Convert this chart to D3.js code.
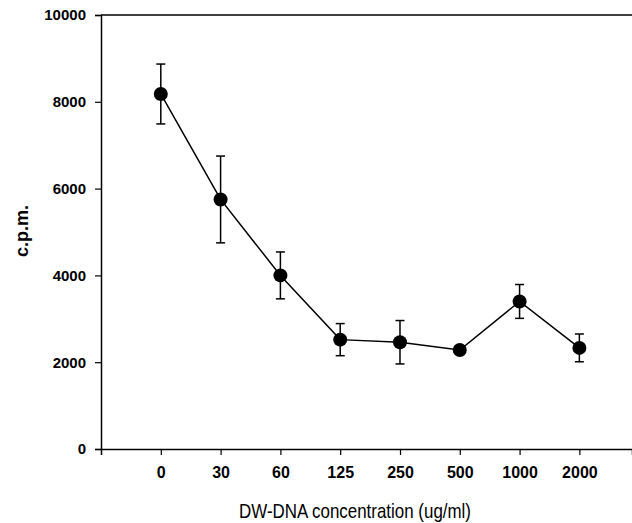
<!DOCTYPE html>
<html>
<head>
<meta charset="utf-8">
<script src="https://cdn.jsdelivr.net/npm/d3@7"></script>
<style>
  body { margin: 0; background: #fff; }
  text { font-family: "Liberation Sans", Arial, sans-serif; fill: #000; }
</style>
</head>
<body>
<div id="chart"></div>
<script>
// concentrations (categorical), mean c.p.m. and error (+/-)
const concentrations = ["0", "30", "60", "125", "250", "500", "1000", "2000"];
const cpm = [8180, 5750, 4000, 2520, 2460, 2280, 3400, 2330];
const err = [690, 1000, 540, 370, 500, 0, 390, 320];
const yTicks = [0, 2000, 4000, 6000, 8000, 10000];

const width = 632, height = 523;
const margin = { top: 15, right: 0, bottom: 74, left: 101 };

const svg = d3.select("#chart").append("svg")
  .attr("width", width)
  .attr("height", height);

// x is index based so that the y axis sits one step left of "0"
const x = d3.scaleLinear()
  .domain([-1, 7.88])
  .range([margin.left, width - margin.right]);

const y = d3.scaleLinear()
  .domain([0, 10000])
  .range([height - margin.bottom, margin.top]);

// top frame line
svg.append("line")
  .attr("x1", margin.left).attr("x2", width)
  .attr("y1", y(10000)).attr("y2", y(10000))
  .attr("stroke", "#000").attr("stroke-width", 1.5);

// y axis
const yAxis = svg.append("g")
  .attr("transform", `translate(${margin.left},0)`)
  .call(d3.axisLeft(y).tickValues(yTicks).tickSize(6).tickPadding(9).tickFormat(d3.format("d")));
yAxis.attr("font-size", null).attr("font-family", null);
yAxis.select(".domain").attr("stroke-width", 1.5);
yAxis.selectAll(".tick line").attr("stroke-width", 1.2);
yAxis.selectAll("text")
  .style("font-size", "15px").style("font-weight", "bold");

// x axis
const xAxis = svg.append("g")
  .attr("transform", `translate(0,${y(0)})`)
  .call(d3.axisBottom(x).tickValues(d3.range(concentrations.length)).tickSize(6).tickPadding(12)
    .tickFormat(i => concentrations[i]));
xAxis.attr("font-size", null).attr("font-family", null);
xAxis.select(".domain").attr("stroke-width", 1.5);
xAxis.selectAll(".tick line").attr("stroke-width", 1.2);
xAxis.selectAll("text")
  .style("font-size", "16px").style("font-weight", "bold");

// axis titles
svg.append("text")
  .attr("transform", "translate(28,231) rotate(-90)")
  .attr("text-anchor", "middle")
  .style("font-size", "18px").style("font-weight", "bold")
  .text("c.p.m.");

svg.append("text")
  .attr("x", 355)
  .attr("y", 518)
  .attr("text-anchor", "middle")
  .style("font-size", "21px")
  .attr("textLength", 232)
  .attr("lengthAdjust", "spacingAndGlyphs")
  .text("DW-DNA concentration (ug/ml)");

const pts = cpm.map((v, i) => ({ i, v, e: err[i] }));

// connecting line
svg.append("path")
  .datum(pts)
  .attr("fill", "none")
  .attr("stroke", "#000")
  .attr("stroke-width", 1.5)
  .attr("d", d3.line().x(d => x(d.i)).y(d => y(d.v)));

// error bars
const eb = svg.append("g").selectAll("g")
  .data(pts.filter(d => d.e > 0))
  .join("g")
  .attr("stroke", "#000")
  .attr("stroke-width", 1.5);

eb.append("line")
  .attr("x1", d => x(d.i)).attr("x2", d => x(d.i))
  .attr("y1", d => y(d.v + d.e)).attr("y2", d => y(d.v - d.e));
eb.append("line")
  .attr("x1", d => x(d.i) - 4.5).attr("x2", d => x(d.i) + 4.5)
  .attr("y1", d => y(d.v + d.e)).attr("y2", d => y(d.v + d.e));
eb.append("line")
  .attr("x1", d => x(d.i) - 4.5).attr("x2", d => x(d.i) + 4.5)
  .attr("y1", d => y(d.v - d.e)).attr("y2", d => y(d.v - d.e));

// markers
svg.append("g").selectAll("circle")
  .data(pts)
  .join("circle")
  .attr("cx", d => x(d.i))
  .attr("cy", d => y(d.v))
  .attr("r", 7)
  .attr("fill", "#000");
</script>
</body>
</html>
